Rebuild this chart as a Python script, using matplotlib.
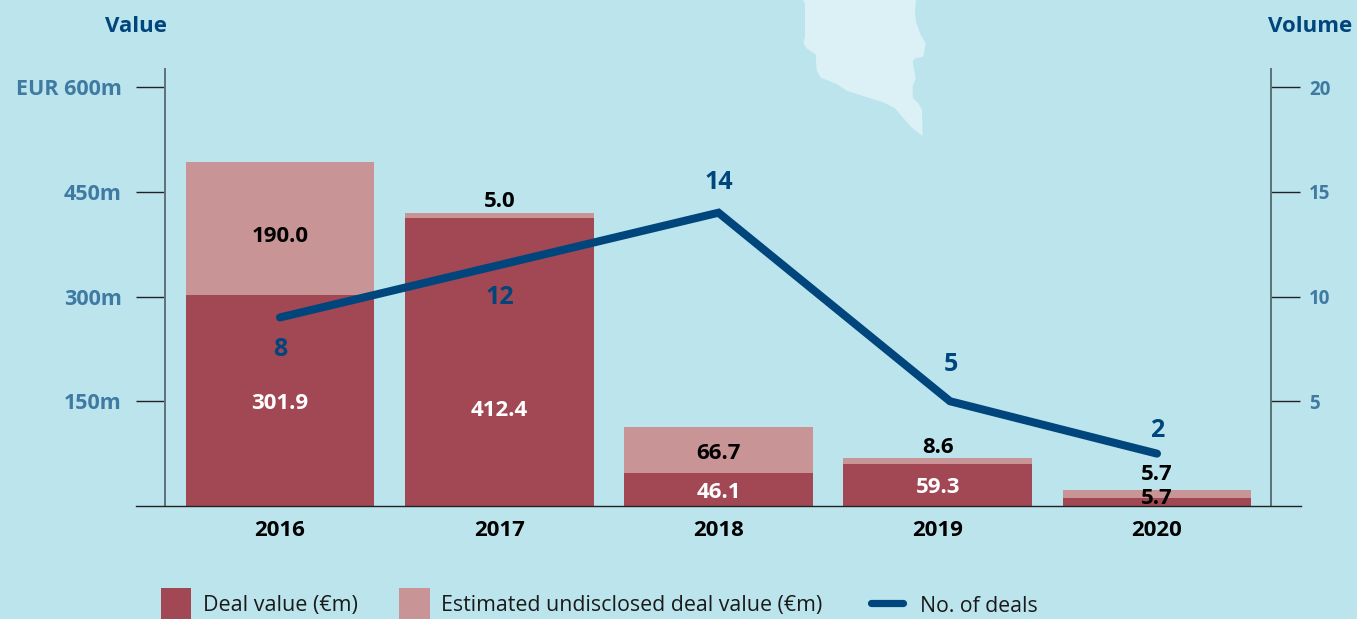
import matplotlib
matplotlib.use('Agg')
import matplotlib.pyplot as plt
from matplotlib.lines import Line2D
from matplotlib.patches import Polygon, Rectangle

W, H = 1357, 619

years = ['2016', '2017', '2018', '2019', '2020']
deal_value = [301.9, 412.4, 47, 60.5, 11.5]
undisclosed_value = [190.5, 7, 65.8, 8.6, 11.5]
deal_labels = ['301.9', '412.4', '46.1', '59.3', '5.7']
undisclosed_labels = ['190.0', '5.0', '66.7', '8.6', '5.7']
deals_x = [0, 1, 2, 3.056, 4]
deals_drawn = [9, 11.5, 14, 5, 2.5]
deals_labels = ['8', '12', '14', '5', '2']

value_ticks = [150, 300, 450, 600]
value_ticklabels = ['150m', '300m', '450m', 'EUR 600m']
volume_ticks = [5, 10, 15, 20]

# where the numbers sit
deal_label_y = [147, 137, 19.5, 26.6, 10.9]
undisclosed_label_y = [386, 436, 75, 84, 45]
deals_offset = [(0, -32), (1, -32), (0, 30), (1, 37), (0, 23)]

bg = '#BCE4EC'
dark = '#A14854'
light = '#C89495'
navy = '#00457C'
tick_blue = '#3F7AA3'
font = 'Open Sans'

blob = [(68,0),(75,10),(75,110),(70,130),(80,145),(107,163),(110,210),(122,233),(170,252),
        (200,272),(310,307),(345,325),(395,383),(428,408),(426,330),(415,310),(398,293),
        (398,258),(407,235),(398,185),(405,175),(430,170),(437,130),(420,100),(408,65),
        (405,35),(408,0)]

def fx(px): return px / W
def fy(py): return 1 - py / H

plt.rcParams['font.family'] = [font, 'DejaVu Sans']

fig = plt.figure(figsize=(W / 100, H / 100), dpi=100, facecolor=bg)
fig.add_artist(Polygon([(fx(780 + x / 3), fy(y / 3)) for x, y in blob], closed=True,
                       transform=fig.transFigure, fc='#DCF1F6', ec='none'))

ax = fig.add_axes([fx(165), fy(506), fx(1271 - 165), fy(69) - fy(506)])
ax.patch.set_alpha(0)
ax.set_xlim(-0.5245, 4.52)
ax.set_ylim(0, 625.8)

x = list(range(len(years)))
ax.bar(x, deal_value, width=0.861, color=dark)
ax.bar(x, undisclosed_value, width=0.861, bottom=deal_value, color=light)

for i in x:
    ax.text(i, deal_label_y[i], deal_labels[i], ha='center', va='center', fontsize=16,
            fontweight='bold', color='black' if i == 4 else 'white', zorder=5)
    ax.text(i, undisclosed_label_y[i], undisclosed_labels[i], ha='center', va='center',
            fontsize=16, fontweight='bold', color='black', zorder=5)

ax.set_xticks(x, years, fontsize=16, fontweight='bold')
ax.tick_params(axis='x', length=0, pad=10)
ax.set_yticks(value_ticks, value_ticklabels, fontsize=15.5, fontweight='bold', color=tick_blue)
ax.tick_params(axis='y', length=21, width=1, color='#222222', pad=10)

ax2 = ax.twinx()
ax2.set_ylim(0, 20.86)
ax2.plot(deals_x, deals_drawn, color=navy, lw=5.8, solid_capstyle='round', solid_joinstyle='miter')
for i in x:
    ax2.annotate(deals_labels[i], (deals_x[i], deals_drawn[i]), xytext=(deals_offset[i][0] * 0.72, deals_offset[i][1] * 0.72),
                 textcoords='offset points', ha='center', va='center', fontsize=18,
                 fontweight='bold', color=navy)
ax2.set_yticks(volume_ticks, [str(v) for v in volume_ticks], fontsize=13.5, fontweight='bold', color=tick_blue)
ax2.tick_params(axis='y', length=21, width=1, color='#222222', pad=6.5)

for a in (ax, ax2):
    a.spines['top'].set_visible(False)
    a.spines['bottom'].set_visible(False)
    a.spines['left'].set_color('#5F7479')
    a.spines['right'].set_color('#5F7479')
    a.spines['left'].set_linewidth(1.3)
    a.spines['right'].set_linewidth(1.3)

# baseline runs past both axes
fig.add_artist(Line2D([fx(136), fx(1301)], [fy(506), fy(506)], transform=fig.transFigure,
                      color='#222222', lw=1))

fig.text(fx(167), fy(27), 'Value', ha='right', va='center', fontsize=16, fontweight='bold', color=navy)
fig.text(fx(1352), fy(27), 'Volume', ha='right', va='center', fontsize=16, fontweight='bold', color=navy)

# legend, cut by the bottom edge like the original
fig.add_artist(Rectangle((fx(161), fy(619)), fx(30), fy(588) - fy(619), transform=fig.transFigure, fc=dark, ec='none'))
fig.add_artist(Rectangle((fx(399), fy(619)), fx(31), fy(588) - fy(619), transform=fig.transFigure, fc=light, ec='none'))
fig.add_artist(Line2D([fx(871), fx(903)], [fy(603), fy(603)], transform=fig.transFigure,
                      color=navy, lw=5.2, solid_capstyle='round'))
fig.text(fx(203), fy(606), 'Deal value (€m)', va='center', fontsize=15.5, color='#1a1a1a')
fig.text(fx(441), fy(606), 'Estimated undisclosed deal value (€m)', va='center', fontsize=15.4, color='#1a1a1a')
fig.text(fx(920), fy(606), 'No. of deals', va='center', fontsize=15.3, color='#1a1a1a')

fig.savefig('out.png', dpi=100, facecolor=bg)
